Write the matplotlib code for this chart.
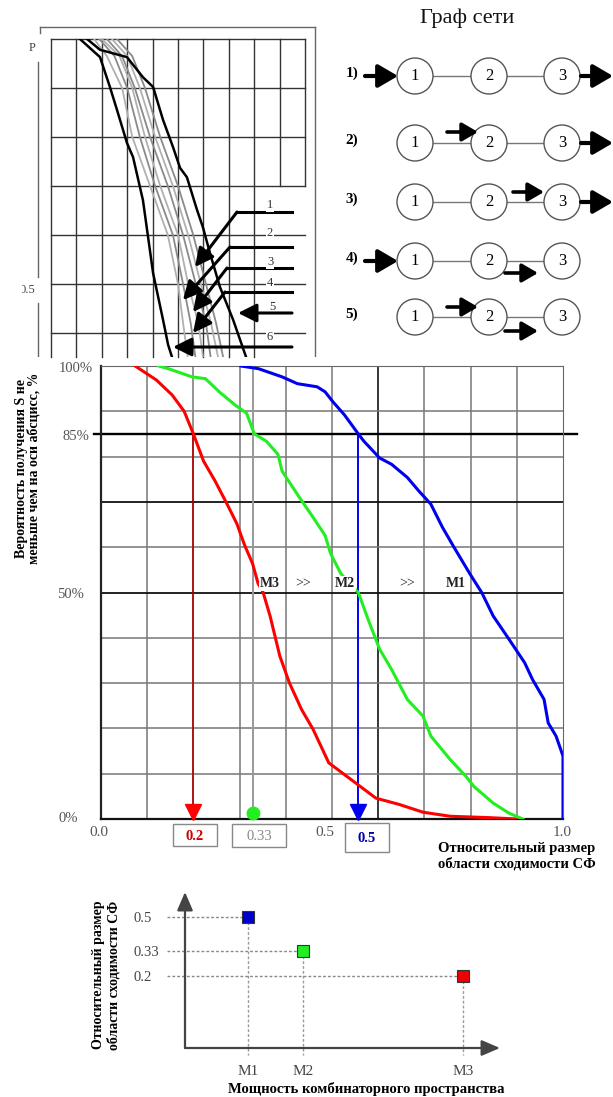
import numpy as np
import matplotlib
matplotlib.use("Agg")
import matplotlib.pyplot as plt
from matplotlib.patches import Circle, Rectangle

plt.rcParams['font.family'] = ['Liberation Serif', 'DejaVu Serif']

W, H = 613, 1097

# основной график: вероятность (%) получить S не меньше x
red_x = [0.074, 0.12, 0.154, 0.18, 0.20, 0.222, 0.247, 0.273, 0.294, 0.311, 0.328, 0.34, 0.351,
         0.366, 0.387, 0.408, 0.434, 0.459, 0.493, 0.527, 0.561, 0.595, 0.646, 0.697, 0.756, 0.84, 0.90]
red_p = [100, 96.9, 93.6, 90, 85, 79, 74.6, 69.5, 65.2, 60.4, 56.4, 52, 50,
         44.8, 36, 30, 24.2, 19.8, 12.4, 9.8, 7.2, 4.6, 3.2, 1.5, 0.6, 0.3, 0]
green_x = [0.125, 0.146, 0.197, 0.226, 0.256, 0.29, 0.315, 0.332, 0.358, 0.383, 0.392, 0.408, 0.434,
           0.459, 0.485, 0.497, 0.519, 0.544, 0.557, 0.578, 0.603, 0.629, 0.663, 0.697, 0.714,
           0.756, 0.79, 0.807, 0.849, 0.883, 0.913]
green_p = [100, 99.4, 97.6, 97.2, 94.3, 91.4, 89.6, 85, 83.4, 80.5, 76.8, 74.3, 70.3,
           66.6, 62.6, 58.6, 54.2, 51.3, 50, 44.1, 37.5, 33, 26.4, 22.7, 18.3,
           13.1, 9.4, 7.2, 3.5, 1.3, 0]
blue_x = [0.303, 0.341, 0.392, 0.425, 0.468, 0.485, 0.502, 0.527, 0.557, 0.569, 0.603, 0.629, 0.663,
          0.688, 0.714, 0.739, 0.764, 0.798, 0.824, 0.849, 0.883, 0.917, 0.934, 0.959, 0.968,
          0.985, 1.0, 1.0]
blue_p = [100, 99.4, 97.6, 96.1, 95.4, 94.3, 92.1, 89.2, 85, 83.4, 79.7, 78.3, 75.4,
          72.4, 69.5, 64.4, 60, 54.2, 50, 44.8, 39.7, 34.5, 30.8, 26.4, 21.2,
          18.3, 13.9, 0]
cut_x = [0.2, 0.33, 0.556]          # где кривые пересекают 85%
cut_lbl = ['0.2', '0.33', '0.5']

# верхний левый график (P), две граничные и шесть промежуточных кривых
blk1_x = [0.114, 0.193, 0.232, 0.26, 0.299, 0.323, 0.362, 0.402, 0.441, 0.461, 0.48]
blk1_p = [1.0, 0.963, 0.902, 0.855, 0.788, 0.759, 0.671, 0.522, 0.427, 0.376, 0.345]
blk2_x = [0.142, 0.193, 0.299, 0.362, 0.402, 0.441, 0.48, 0.508, 0.535, 0.575, 0.598, 0.626, 0.665, 0.717, 0.772]
blk2_p = [1.0, 0.978, 0.963, 0.922, 0.902, 0.835, 0.78, 0.737, 0.718, 0.651, 0.616, 0.563, 0.494, 0.427, 0.345]
gray_p = [1.0, 0.965, 0.9, 0.8, 0.7, 0.6, 0.5, 0.42, 0.345]
gray_x = [
    [0.17, 0.22, 0.28, 0.32, 0.39, 0.46, 0.50, 0.52, 0.54],
    [0.19, 0.25, 0.30, 0.35, 0.41, 0.48, 0.52, 0.55, 0.57],
    [0.20, 0.27, 0.32, 0.37, 0.43, 0.50, 0.54, 0.58, 0.60],
    [0.22, 0.28, 0.33, 0.39, 0.46, 0.52, 0.57, 0.61, 0.63],
    [0.24, 0.30, 0.35, 0.41, 0.48, 0.54, 0.59, 0.63, 0.66],
    [0.26, 0.32, 0.37, 0.43, 0.50, 0.56, 0.61, 0.65, 0.68],
]

# нижний график
m_names = ['M1', 'M2', 'M3']
m_pos = [1.0, 1.87, 4.41]
m_val = [0.5, 0.33, 0.2]
m_col = ['#0000cc', '#22ee22', '#ee0000']


def box(x0, y0, x1, y1):
    return [x0 / W, 1 - y1 / H, (x1 - x0) / W, (y1 - y0) / H]


def arrow(a, x0, y0, x1, y1, lw=3, ms=20, hl=0.6, hw=0.35, color='black'):
    a.annotate('', xy=(x1, y1), xytext=(x0, y0),
               arrowprops=dict(arrowstyle=f'-|>,head_length={hl},head_width={hw}',
                               lw=lw, color=color, shrinkA=0, shrinkB=0,
                               mutation_scale=ms))


fig = plt.figure(figsize=(W / 100, H / 100), dpi=100)

# ---------- основной график ----------
ax = fig.add_axes(box(101, 366, 563, 819))
ax.set_xlim(0, 1)
ax.set_ylim(0, 100)
ax.set_xticks([])
ax.set_yticks([])
for gx in np.arange(1, 10) / 10:
    ax.axvline(gx, color='black' if abs(gx - 0.6) < 1e-6 else '#777', lw=1.1, zorder=1)
for gy in [10, 20, 30, 40, 60, 80, 90]:
    ax.axhline(gy, color='#777', lw=1.1, zorder=1)
for gy in [50, 70]:
    ax.axhline(gy, color='#111', lw=1.3, zorder=1)
ax.plot([-0.015, 1.03], [85, 85], color='black', lw=1.7, clip_on=False, zorder=2)
for s in ['top', 'right']:
    ax.spines[s].set_color('#666')
ax.spines['left'].set_color('#222')
ax.spines['left'].set_linewidth(1.6)
ax.spines['bottom'].set_color('#111')
ax.spines['bottom'].set_linewidth(1.6)

ax.plot(red_x, red_p, color='#ff0000', lw=2.2, zorder=4)
ax.plot(green_x, green_p, color='#22ee22', lw=2.2, zorder=4)
ax.plot(blue_x, blue_p, color='#0000ee', lw=2.2, zorder=4)

ax.plot([cut_x[0]] * 2, [85, 2], color='#b00000', lw=1.2, zorder=3)
ax.plot([cut_x[1]] * 2, [100, 2], color='#999999', lw=1.4, zorder=3)
ax.plot([cut_x[2]] * 2, [85, 2], color='#0000ff', lw=1.4, zorder=3)
ax.plot(cut_x[0], 1.6, marker='v', ms=11, color='#ff0000', clip_on=False, zorder=5)
ax.plot(cut_x[1], 1.4, marker='o', ms=9, color='#22ee22', clip_on=False, zorder=5)
ax.plot(cut_x[2], 1.6, marker='v', ms=11, color='#0000ee', clip_on=False, zorder=5)

for tx, t, bold in [(0.366, 'M3', True), (0.438, '>>', False), (0.527, 'M2', True),
                    (0.663, '>>', False), (0.769, 'M1', True)]:
    ax.text(tx, 52.0, t, ha='center', va='center', fontsize=10,
            weight='bold' if bold else 'normal', color='#222', zorder=6,
            bbox=dict(boxstyle='square,pad=0.1', fc='white', ec='none'))

# ---------- верхний левый график ----------
p_low = 1 - (357 - 39) / 490
au = fig.add_axes(box(51, 39, 305, 357))
au.set_xlim(0, 1)
au.set_ylim(p_low, 1.0)
au.axis('off')
for gx in np.arange(0, 9) / 10:
    au.plot([gx, gx], [p_low, 1.0], color='#333', lw=1.0, clip_on=False)
for gx in [0.9, 1.0]:
    au.plot([gx, gx], [0.70, 1.0], color='#333', lw=1.0, clip_on=False)
for gy in [1.0, 0.9, 0.8, 0.7, 0.6, 0.5, 0.4]:
    au.plot([0, 1], [gy, gy], color='#333', lw=1.0, clip_on=False)
for i, gx_ in enumerate(gray_x):
    au.plot(gx_, gray_p, color='#8a8a8a' if i % 2 else '#b0b0b0', lw=1.3)
au.plot(blk1_x, blk1_p, color='black', lw=1.8)
au.plot(blk2_x, blk2_p, color='black', lw=1.8)

ou = fig.add_axes(box(0, 0, 320, 357))
ou.set_xlim(0, 320)
ou.set_ylim(357, 0)
ou.axis('off')
ou.patch.set_alpha(0)
ou.plot([40, 315], [27, 27], color='#666', lw=1)
ou.plot([315, 315], [27, 357], color='#666', lw=1)
ou.plot([40, 40], [27, 33], color='#666', lw=1)
ou.plot([38, 38], [62, 277], color='#666', lw=1)
ou.plot([38, 38], [303, 357], color='#666', lw=1)
ou.text(32, 48, 'P', ha='center', va='center', fontsize=9, color='#444')
ou.text(35, 290, '0.5', ha='right', va='center', fontsize=9, color='#444')
ou.add_patch(Rectangle((0, 280), 22, 20, fc='white', ec='none', zorder=5))
for lbl, ly, ty, hx, tip in [('1', 212, 205, 237, (195, 267)), ('2', 247, 233, 230, (183, 300)),
                             ('3', 268, 262, 227, (193, 312)), ('4', 292, 283, 225, (193, 333))]:
    ou.text(270, ty, lbl, ha='center', va='center', fontsize=9, color='#333',
            bbox=dict(boxstyle='square,pad=0.05', fc='white', ec='none'))
    ou.plot([292, hx], [ly, ly], color='black', lw=2.2)
    arrow(ou, hx, ly, tip[0], tip[1], lw=2.2, ms=14, hl=0.8, hw=0.4)
ou.text(272, 307, '5', ha='center', va='center', fontsize=9, color='#333',
        bbox=dict(boxstyle='square,pad=0.05', fc='white', ec='none'))
arrow(ou, 292, 313, 238, 313, lw=2.2, ms=14, hl=0.8, hw=0.4)
ou.text(270, 337, '6', ha='center', va='center', fontsize=9, color='#333',
        bbox=dict(boxstyle='square,pad=0.05', fc='white', ec='none'))
arrow(ou, 292, 347, 173, 347, lw=2.2, ms=14, hl=0.8, hw=0.4)

# ---------- нижний график ----------
ab = fig.add_axes(box(185, 892, 500, 1048))
ab.set_xlim(0, 5)
ab.set_ylim(-0.165, 0.627)
for s in ab.spines.values():
    s.set_visible(False)
ab.annotate('', xy=(0, 1), xytext=(0, 0), xycoords='axes fraction',
            arrowprops=dict(arrowstyle='-|>,head_length=0.7,head_width=0.3', lw=1.6,
                            color='#444', shrinkA=0, shrinkB=0, mutation_scale=16))
ab.annotate('', xy=(1, 0), xytext=(0, 0), xycoords='axes fraction',
            arrowprops=dict(arrowstyle='-|>,head_length=0.7,head_width=0.3', lw=1.6,
                            color='#444', shrinkA=0, shrinkB=0, mutation_scale=16))
for xp, v, c in zip(m_pos, m_val, m_col):
    ab.plot([-0.29, xp], [v, v], ls=(0, (2, 1.5)), color='#888', lw=1, clip_on=False)
    ab.plot([xp, xp], [v, -0.2], ls=(0, (2, 1.5)), color='#999', lw=1, clip_on=False)
    ab.plot(xp, v, marker='s', ms=8, mfc=c, mec='#333', mew=0.8, zorder=5)
ab.set_xticks(m_pos, m_names)
ab.set_yticks(m_val, ['0.5', '0.33', '0.2'])
ab.tick_params(axis='x', length=0, pad=12, labelsize=11, labelcolor='#444')
ab.tick_params(axis='y', length=0, pad=37, labelsize=10.5, labelcolor='#444')
for t in ab.get_yticklabels():
    t.set_ha('left')

# ---------- надписи, граф сети ----------
ov = fig.add_axes([0, 0, 1, 1])
ov.set_xlim(0, W)
ov.set_ylim(H, 0)
ov.axis('off')
ov.patch.set_alpha(0)

ov.text(467, 18, 'Граф сети', ha='center', va='center', fontsize=16, color='#111')
rows_y = [76, 143, 202, 261, 317]
nodes_x = [415, 489, 562]
for k, ry in enumerate(rows_y):
    ov.text(352, ry - 3, f'{k + 1})', ha='center', va='center', fontsize=11, weight='bold')
    ov.plot([nodes_x[0] + 18, nodes_x[2] - 18], [ry, ry], color='#777', lw=1, zorder=1)
    for n, nx in enumerate(nodes_x):
        ov.add_patch(Circle((nx, ry), 18, fc='white', ec='#555', lw=1, zorder=2))
        ov.text(nx, ry, str(n + 1), ha='center', va='center', fontsize=12, zorder=3)
arrow(ov, 365, 76, 398, 76)
arrow(ov, 581, 76, 613, 76)
arrow(ov, 447, 132, 478, 132, lw=2.6, ms=16)
arrow(ov, 581, 143, 613, 143)
arrow(ov, 513, 192, 544, 192, lw=2.6, ms=16)
arrow(ov, 581, 202, 613, 202)
arrow(ov, 365, 261, 398, 261)
arrow(ov, 505, 273, 538, 273, lw=2.6, ms=16)
arrow(ov, 447, 307, 478, 307, lw=2.6, ms=16)
arrow(ov, 505, 331, 538, 331, lw=2.6, ms=16)

# подписи основного графика
ov.text(28, 468, 'Вероятность получения S не\nменьше чем на оси абсцисс, %', rotation=90,
        ha='center', va='center', fontsize=10, weight='bold', linespacing=0.95)
for t, tx, ty in [('100%', 93, 368), ('85%', 89, 436), ('50%', 84, 595), ('0%', 78, 819)]:
    ov.text(tx, ty, t, ha='right', va='center', fontsize=10.5, color='#555')
for t, tx in [('0.0', 99), ('0.5', 325), ('1.0', 562)]:
    ov.text(tx, 833, t, ha='center', va='center', fontsize=11, color='#555')
for (x0, y0, x1, y1), t, c, bold in [((173, 824, 217, 846), cut_lbl[0], '#cc0000', True),
                                     ((232, 824, 286, 847), cut_lbl[1], '#888888', False),
                                     ((345, 823, 389, 852), cut_lbl[2], '#0000aa', True)]:
    ov.add_patch(Rectangle((x0, y0), x1 - x0, y1 - y0, fc='white', ec='#888', lw=1))
    ov.text((x0 + x1) / 2, (y0 + y1) / 2 + 1, t, ha='center', va='center', fontsize=10.5,
            color=c, weight='bold' if bold else 'normal')
ov.text(517, 856, 'Относительный размер\nобласти сходимости СФ', ha='center', va='center',
        fontsize=10.5, weight='bold', linespacing=1.15)

# подписи нижнего графика
ov.text(106, 975, 'Относительный размер\nобласти сходимости СФ', rotation=90, ha='center',
        va='center', fontsize=10, weight='bold', linespacing=1.2)
ov.text(366, 1089, 'Мощность комбинаторного пространства', ha='center', va='center',
        fontsize=10.5, weight='bold')

fig.savefig('out.png', dpi=100)
